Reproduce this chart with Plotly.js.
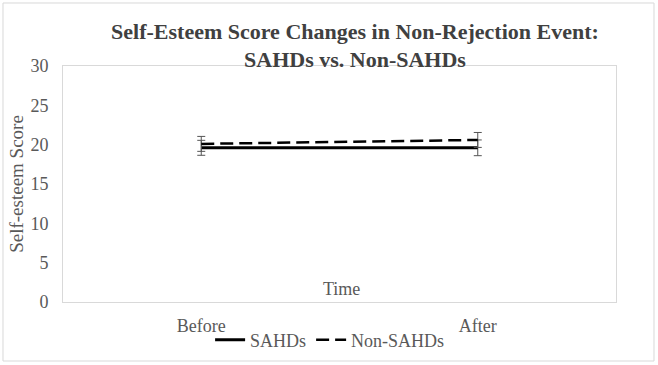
<!DOCTYPE html>
<html><head><meta charset="utf-8">
<script src="https://cdn.plot.ly/plotly-3.0.1.min.js"></script>
<style>body{margin:0;background:#fff}#chart{width:658px;height:365px}</style>
</head><body><div id="chart"></div>
<script>
const categories = ['Before', 'After'];
const sahdsValues = [19.6, 19.6];
const sahdsErrors = [0.95, 1.0];
const nonSahdsValues = [20.1, 20.6];
const nonSahdsErrors = [0.95, 0.95];
const seriesNames = ['SAHDs', 'Non-SAHDs'];

const FONT = '"Liberation Serif", "Times New Roman", serif';
const GRAY = '#595959';

const traces = [
  {
    x: categories, y: sahdsValues, name: seriesNames[0], type: 'scatter', mode: 'lines',
    line: {color: '#000000', width: 3},
    error_y: {type: 'data', array: sahdsErrors, visible: true, color: '#555555', thickness: 1, width: 4}
  },
  {
    x: categories, y: nonSahdsValues, name: seriesNames[1], type: 'scatter', mode: 'lines',
    line: {color: '#000000', width: 2.5, dash: '13px,6px'},
    error_y: {type: 'data', array: nonSahdsErrors, visible: true, color: '#555555', thickness: 1, width: 4}
  }
];

const layout = {
  width: 658, height: 365,
  margin: {l: 63, r: 42, t: 66, b: 63, autoexpand: false},
  paper_bgcolor: '#ffffff', plot_bgcolor: '#ffffff',
  font: {family: FONT, size: 18, color: GRAY},
  title: {
    text: '<b>Self-Esteem Score Changes in Non-Rejection Event:<br>SAHDs vs. Non-SAHDs</b>',
    font: {family: FONT, size: 22, color: '#404040'},
    xref: 'paper', x: 0.528, xanchor: 'center',
    yref: 'container', y: 0.894, yanchor: 'middle'
  },
  xaxis: {
    type: 'category', range: [-0.5, 1.5],
    showgrid: false, zeroline: false,
    showline: true, mirror: true, linecolor: '#d9d9d9', linewidth: 1,
    ticks: '', ticklabelstandoff: 7,
    tickfont: {family: FONT, size: 18, color: GRAY}
  },
  yaxis: {
    range: [0, 30], dtick: 5, tick0: 0,
    showgrid: false, zeroline: false,
    showline: true, mirror: true, linecolor: '#d9d9d9', linewidth: 1,
    ticks: '', ticklabelstandoff: 10,
    tickfont: {family: FONT, size: 18, color: GRAY},
    title: {text: 'Self-esteem Score', font: {family: FONT, size: 19, color: GRAY}, standoff: 1}
  },
  showlegend: true,
  legend: {
    orientation: 'h', x: 0.483, xanchor: 'center', y: -0.161, yanchor: 'middle',
    font: {family: FONT, size: 18, color: GRAY}, bgcolor: 'rgba(0,0,0,0)'
  },
  annotations: [
    {text: 'Time', xref: 'paper', yref: 'paper', x: 0.503, y: 0.055, showarrow: false,
     xanchor: 'center', yanchor: 'middle', font: {family: FONT, size: 18, color: GRAY}}
  ],
  shapes: [
    {type: 'rect', xref: 'paper', yref: 'paper', x0: -0.1085, x1: 1.0687, y0: -0.25, y1: 1.267,
     line: {color: '#d9d9d9', width: 1}, fillcolor: 'rgba(0,0,0,0)', layer: 'below'}
  ]
};

Plotly.newPlot('chart', traces, layout, {displayModeBar: false, staticPlot: true});
</script>
</body></html>
